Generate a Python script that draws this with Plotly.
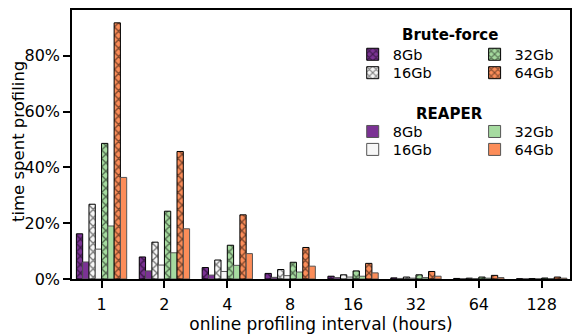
import plotly.graph_objects as go

intervals = ["1", "2", "4", "8", "16", "32", "64", "128"]
sizes = ["8Gb", "16Gb", "32Gb", "64Gb"]
colors = ["#7b3294", "#f7f7f7", "#a6dba0", "#fc8d59"]

# fraction of time spent profiling, per DRAM size
brute_force = {
    "8Gb": [0.162, 0.079, 0.041, 0.020, 0.010, 0.004, 0.002, 0.001],
    "16Gb": [0.268, 0.132, 0.068, 0.034, 0.015, 0.007, 0.003, 0.0015],
    "32Gb": [0.486, 0.243, 0.121, 0.060, 0.029, 0.015, 0.007, 0.0035],
    "64Gb": [0.918, 0.457, 0.230, 0.113, 0.056, 0.027, 0.013, 0.007],
}
reaper = {
    "8Gb": [0.061, 0.029, 0.014, 0.006, 0.005, 0.002, 0.001, 0.0005],
    "16Gb": [0.107, 0.050, 0.027, 0.012, 0.007, 0.003, 0.0015, 0.0007],
    "32Gb": [0.190, 0.094, 0.049, 0.025, 0.010, 0.005, 0.003, 0.0012],
    "64Gb": [0.364, 0.180, 0.091, 0.046, 0.022, 0.010, 0.005, 0.003],
}

FONT = "DejaVu Sans"
OFF = 8  # default body margin of the html page
W, H = 581 - OFF, 336 - OFF
# plot area in page pixels: x 72..570.5, y 9.5..279.5
L, R, T, B = 72 - OFF, 10.5, 9.5 - OFF, 56.5


def px_x(p):
    return (p - OFF - L) / (W - L - R)


def px_y(p):
    return (H - B - (p - OFF)) / (H - T - B)


# legend placement: (text start x, row centre y) in page pixels
bf_rows = {"8Gb": (353, 54), "16Gb": (353, 72.5), "32Gb": (475, 54), "64Gb": (475, 72.5)}
rp_rows = {"8Gb": (353, 131.5), "16Gb": (353, 149.5), "32Gb": (475, 131.5), "64Gb": (475, 149.5)}

leg_font = dict(family=FONT, size=14.5, color="black")
legends = {}
fig = go.Figure()
n = 0
for size, color in zip(sizes, colors):
    n += 1
    name = "legend" if n == 1 else f"legend{n}"
    x, y = bf_rows[size]
    legends[name] = dict(x=px_x(x), y=px_y(y), xanchor="left", yanchor="middle",
                         font=leg_font, bgcolor="rgba(0,0,0,0)", itemwidth=30)
    fig.add_trace(go.Bar(
        x=intervals, y=brute_force[size], name=size, legend=name, showlegend=True,
        marker=dict(color=color, line=dict(color="black", width=1),
                    pattern=dict(shape="x", fgcolor="black", bgcolor=color,
                                 size=6, solidity=0.4)),
    ))
    n += 1
    name = f"legend{n}"
    x, y = rp_rows[size]
    legends[name] = dict(x=px_x(x), y=px_y(y), xanchor="left", yanchor="middle",
                         font=leg_font, bgcolor="rgba(0,0,0,0)", itemwidth=30)
    fig.add_trace(go.Bar(
        x=intervals, y=reaper[size], name=size, legend=name, showlegend=True,
        marker=dict(color=color, line=dict(color="#555555", width=1)),
    ))

fig.update_layout(
    width=W, height=H, showlegend=True,
    margin=dict(l=L, r=R, t=T, b=B, autoexpand=False),
    paper_bgcolor="white", plot_bgcolor="white",
    barmode="group", bargap=0.2, bargroupgap=0,
    font=dict(family=FONT, size=16, color="black"),
    annotations=[
        dict(text="<b>Brute-force</b>", x=px_x(450), y=px_y(35),
             xanchor="center", yanchor="middle", xref="paper", yref="paper",
             showarrow=False, font=dict(family=FONT, size=15)),
        dict(text="<b>REAPER</b>", x=px_x(450), y=px_y(114),
             xanchor="center", yanchor="middle", xref="paper", yref="paper",
             showarrow=False, font=dict(family=FONT, size=15)),
        dict(text="time spent profiling", x=px_x(18), y=px_y(142),
             xanchor="center", yanchor="middle", xref="paper", yref="paper",
             textangle=-90, showarrow=False, font=dict(family=FONT, size=16.5)),
    ],
    **legends,
)

fig.update_xaxes(
    type="category", range=[-0.47, 7.45], automargin=False,
    title=dict(text="online profiling interval (hours)", standoff=5,
               font=dict(family=FONT, size=17)),
    ticks="outside", ticklen=7, tickwidth=2, tickcolor="black",
    tickfont=dict(family=FONT, size=16), ticklabelstandoff=3,
    showline=True, linecolor="black", linewidth=1.5, mirror=True,
    showgrid=False,
)
fig.update_yaxes(
    range=[0, 0.964], tickvals=[0, 0.2, 0.4, 0.6, 0.8], automargin=False,
    ticktext=["0%", "20%", "40%", "60%", "80%"],
    ticks="outside", ticklen=7, tickwidth=2, tickcolor="black",
    tickfont=dict(family=FONT, size=16),
    showline=True, linecolor="black", linewidth=1.5, mirror=True,
    showgrid=False, zeroline=False,
)

fig.write_html("out.html")
